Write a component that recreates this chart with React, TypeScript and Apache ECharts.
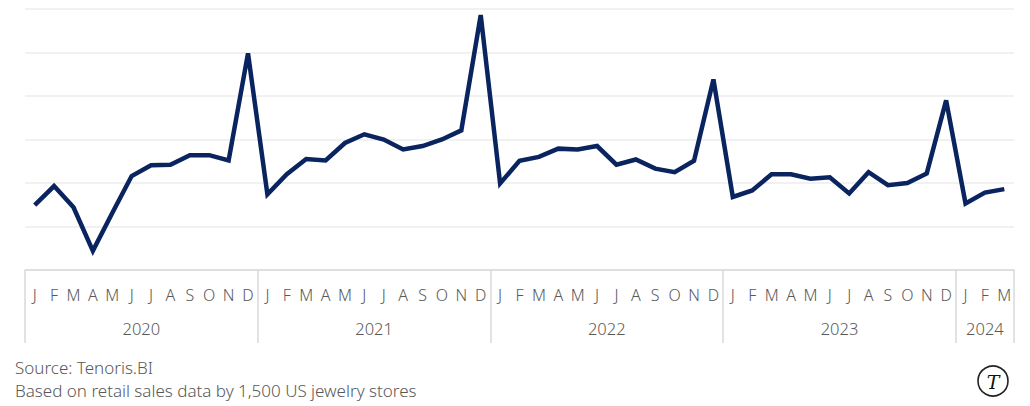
import React, { useEffect, useRef } from "react";
import * as echarts from "echarts";

const months = ["J", "F", "M", "A", "M", "J", "J", "A", "S", "O", "N", "D"];
const years = ["2020", "2021", "2022", "2023", "2024"];
const monthsPerYear = [12, 12, 12, 12, 3];

const v2020 = [14.9, 19.3, 14.4, 4.4, 13.1, 21.6, 24.1, 24.2, 26.4, 26.4, 25.2, 49.8];
const v2021 = [17.4, 22.0, 25.5, 25.2, 29.2, 31.2, 30.0, 27.7, 28.5, 30.0, 32.1, 58.6];
const v2022 = [19.9, 25.1, 26.0, 27.9, 27.7, 28.5, 24.2, 25.4, 23.3, 22.5, 25.1, 43.8];
const v2023 = [16.8, 18.3, 22.0, 22.0, 21.0, 21.3, 17.6, 22.5, 19.5, 20.0, 22.2, 39.0];
const v2024 = [15.3, 17.8, 18.6];

const sourceLines = ["Source: Tenoris.BI", "Based on retail sales data by 1,500 US jewelry stores"];

export default function App() {
  const ref = useRef<HTMLDivElement>(null);
  useEffect(() => {
    document.body.style.margin = "0";
    if (!ref.current) return;
    const chart = echarts.init(ref.current, undefined, { renderer: "svg" });
    const cats: string[] = [];
    monthsPerYear.forEach((n) => {
      for (let i = 0; i < n; i++) cats.push(months[i]);
    });
    const values = [...v2020, ...v2021, ...v2022, ...v2023, ...v2024];
    const total = cats.length;
    const boundaries: number[] = [0];
    const centers: number[] = [];
    let acc = 0;
    monthsPerYear.forEach((n) => {
      centers.push(acc + n / 2);
      acc += n;
      boundaries.push(acc);
    });
    const font = "Noto Sans";
    chart.setOption({
      animation: false,
      grid: { left: 25, right: 16, top: 9, bottom: 136 },
      xAxis: [
        {
          type: "category",
          data: cats,
          boundaryGap: true,
          position: "bottom",
          axisLine: { show: true, lineStyle: { color: "#d9d9d9", width: 1.5 } },
          axisTick: { show: false },
          axisLabel: { interval: 0, margin: 17, color: "#595959", fontSize: 16, fontWeight: 300, fontFamily: font },
          splitLine: { show: false },
        },
        {
          type: "value",
          min: 0,
          max: total,
          position: "bottom",
          axisLine: { show: false },
          splitLine: { show: false },
          axisTick: {
            show: true,
            customValues: boundaries,
            length: 73,
            lineStyle: { color: "#d9d9d9", width: 1.5 },
          },
          axisLabel: {
            customValues: centers,
            margin: 50,
            color: "#595959",
            fontSize: 16.5,
            fontWeight: 300,
            fontFamily: font,
            formatter: (v: number) => {
              const idx = centers.findIndex((c) => Math.abs(c - v) < 1e-6);
              return idx >= 0 ? years[idx] : "";
            },
          },
        },
      ],
      yAxis: {
        type: "value",
        min: 0,
        max: 60,
        interval: 10,
        axisLabel: { show: false },
        axisLine: { show: false },
        axisTick: { show: false },
        splitLine: { show: true, lineStyle: { color: "#ececec", width: 1.5 } },
      },
      series: [
        {
          type: "line",
          xAxisIndex: 0,
          data: values,
          symbol: "none",
          lineStyle: { color: "#0a245f", width: 4.5, join: "miter" },
        },
      ],
      graphic: [
        {
          type: "text",
          left: 15,
          top: 356,
          style: {
            text: sourceLines.join("\n"),
            fill: "#595959",
            font: `300 17px "${font}"`,
            lineHeight: 23,
          },
        },
        {
          type: "circle",
          shape: { cx: 993, cy: 381, r: 15 },
          style: { fill: "#fff", stroke: "#222", lineWidth: 1.6 },
        },
        {
          type: "text",
          x: 993,
          y: 382,
          style: {
            text: "T",
            fill: "#111",
            font: 'italic 19px "DejaVu Serif"',
            align: "center",
            verticalAlign: "middle",
          },
        },
      ],
    });
    return () => chart.dispose();
  }, []);
  return <div ref={ref} style={{ width: 1030, height: 406 }} />;
}
